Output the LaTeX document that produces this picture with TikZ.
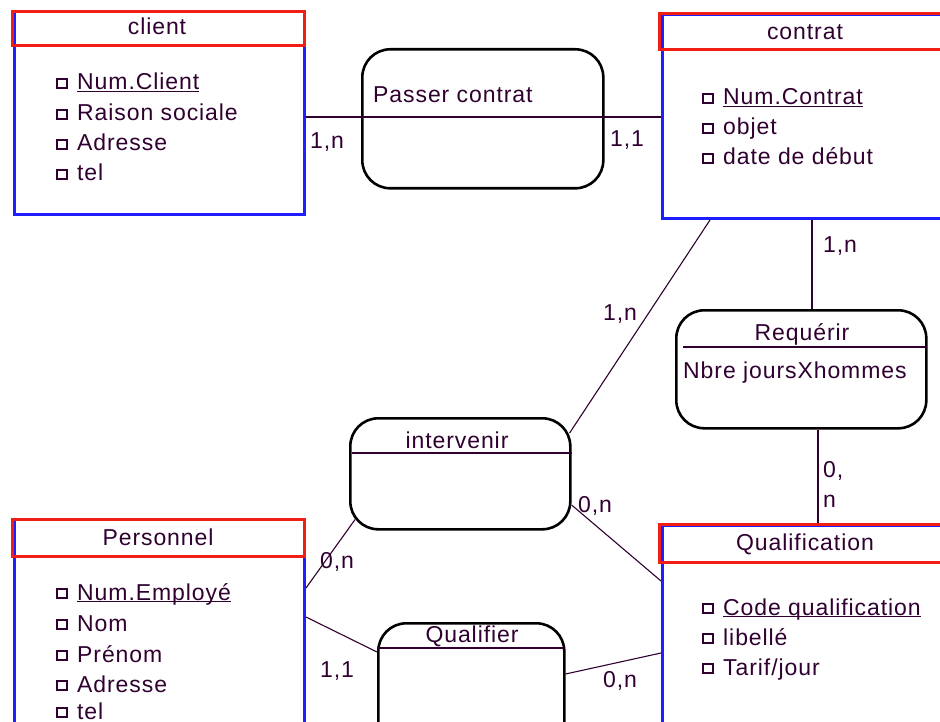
\documentclass[tikz,border=0pt]{standalone}
\usepackage{fontspec}
\setmainfont{Liberation Sans}[LetterSpace=4]
\usetikzlibrary{calc}

\definecolor{ink}{RGB}{48,0,48}
\definecolor{entblue}{RGB}{30,30,255}
\definecolor{entred}{RGB}{240,30,20}

% underlined identifier, line close under the baseline
\newcommand\keyattr[1]{\setbox0\hbox{#1}\rlap{\rule[-2.4pt]{\wd0}{1.1pt}}\box0}

% square bullet + attribute text, one row per entry "baseline/text"
\newcommand\attrlist[3]{%
  \foreach \yy/\lbl [count=\k] in {#3}{%
    \draw[sq] (#2,\yy-11) rectangle ++(10,9);
    \node[txt] (#1-\k) at (#2+20,\yy) {\lbl};
  }}

\tikzset{
  txt/.style={inner sep=0, text=ink, font=\fontsize{23}{27}\selectfont, anchor=base west},
  ttl/.style={inner sep=0, text=ink, font=\fontsize{23}{27}\selectfont, anchor=base},
  entbody/.style={draw=entblue, line width=3, fill=white, anchor=north west, inner sep=0},
  enttitle/.style={draw=entred, line width=3, anchor=north west, inner sep=0},
  assoc/.style={draw=black, line width=2.6, rounded corners=28, fill=white, anchor=north west, inner sep=0},
  sep/.style={draw=ink, line width=1.1},
  link/.style={draw=ink, line width=1.1},
  sq/.style={draw=ink, line width=1.6},
}

\begin{document}
\begin{tikzpicture}[x=1pt, y=-1pt]
\useasboundingbox (0,0) rectangle (940,722);
\clip (0,0) rectangle (940,722);
\fill[white] (0,0) rectangle (940,722);

% ---------- entities ----------
\node[entbody, minimum width=290, minimum height=203] (client) at (13,10) {};
\node[enttitle, minimum width=292, minimum height=34] (clientT) at (11,10) {};
\node[ttl] (clientN) at (157,35) {client};
\attrlist{client}{57}{90/\keyattr{Num.Client}, 121/Raison sociale, 151/Adresse, 181/tel}

\node[entbody, minimum width=289, minimum height=204] (contrat) at (661,13) {};
\node[enttitle, minimum width=292, minimum height=36] (contratT) at (658,12) {};
\node[ttl] (contratN) at (805,40) {contrat};
\attrlist{contrat}{703}{105/\keyattr{Num.Contrat}, 135/objet, 165/date de début}

\node[entbody, minimum width=289, minimum height=250] (qualif) at (661,524) {};
\node[enttitle, minimum width=292, minimum height=38] (qualifT) at (658,523) {};
\node[ttl] (qualifN) at (805,550) {Qualification};
\attrlist{qualif}{703}{615/\keyattr{Code qualification}, 645/libellé, 675/{Tarif/jour}}

\node[entbody, minimum width=290, minimum height=250] (perso) at (13,518) {};
\node[enttitle, minimum width=292, minimum height=37] (persoT) at (11,518) {};
\node[ttl] (persoN) at (158,545) {Personnel};
\attrlist{perso}{57}{600/\keyattr{Num.Employé}, 631/Nom, 662/Prénom, 692/Adresse, 719/tel}

% ---------- associations ----------
\node[assoc, minimum width=241, minimum height=139] (passer) at (361,48) {};
\draw[sep] (passer.west |- 0,117) -- (passer.east |- 0,117);
\node[txt] (passerN) at (373,103) {Passer contrat};

\node[assoc, minimum width=250, minimum height=118] (requerir) at (675,309) {};
\draw[sep] (683,347) -- (927,347);
\node[ttl] (requerirN) at (802,340) {Requérir};
\node[txt] (requerirA) at (683,378) {Nbre joursXhommes};

\node[assoc, minimum width=220, minimum height=111] (intervenir) at (349,417) {};
\draw[sep] (352,453) -- (572,453);
\node[ttl] (intervenirN) at (457,448) {intervenir};

\node[assoc, minimum width=186, minimum height=150] (qualifier) at (377,622) {};
\draw[sep] (377,648) -- (563,648);
\node[ttl] (qualifierN) at (472,642) {Qualifier};

% ---------- links ----------
\draw[link] ($(client.north east)+(0,107)$) -- ($(passer.north west)+(0,69)$);
\draw[link] ($(passer.north east)+(0,69)$) -- ($(contrat.north west)+(0,104)$);
\draw[link] ($(contrat.south west)+(49,0)$) -- ($(intervenir.north east)+(-2,16)$);
\draw[link] ($(contrat.south west)+(151,0)$) -- ($(requerir.north west)+(137,0)$);
\draw[link] ($(requerir.south west)+(143,0)$) -- ($(qualifT.north west)+(160,0)$);
\draw[link] ($(intervenir.north east)+(0,88)$) -- ($(qualif.north west)+(0,57)$);
\draw[link] ($(intervenir.south west)+(6,-11)$) -- ($(perso.north east)+(0,70)$);
\draw[link] ($(perso.north east)+(0,99)$) -- ($(qualifier.north west)+(0,30)$);
\draw[link] ($(qualifier.north east)+(0,52)$) -- ($(qualif.north west)+(0,129)$);

% ---------- cardinalities ----------
\node[txt] (c1) at (310,149) {1,n};
\node[txt] (c2) at (610,147) {1,1};
\node[txt] (c3) at (823,253) {1,n};
\node[txt] (c4) at (823,477) {0,};
\node[txt] (c4b) at (823,507) {n};
\node[txt] (c5) at (603,320) {1,n};
\node[txt] (c6) at (578,512) {0,n};
\node[txt] (c7) at (320,568) {0,n};
\node[txt] (c8) at (320,677) {1,1};
\node[txt] (c9) at (603,687) {0,n};
\end{tikzpicture}
\end{document}
